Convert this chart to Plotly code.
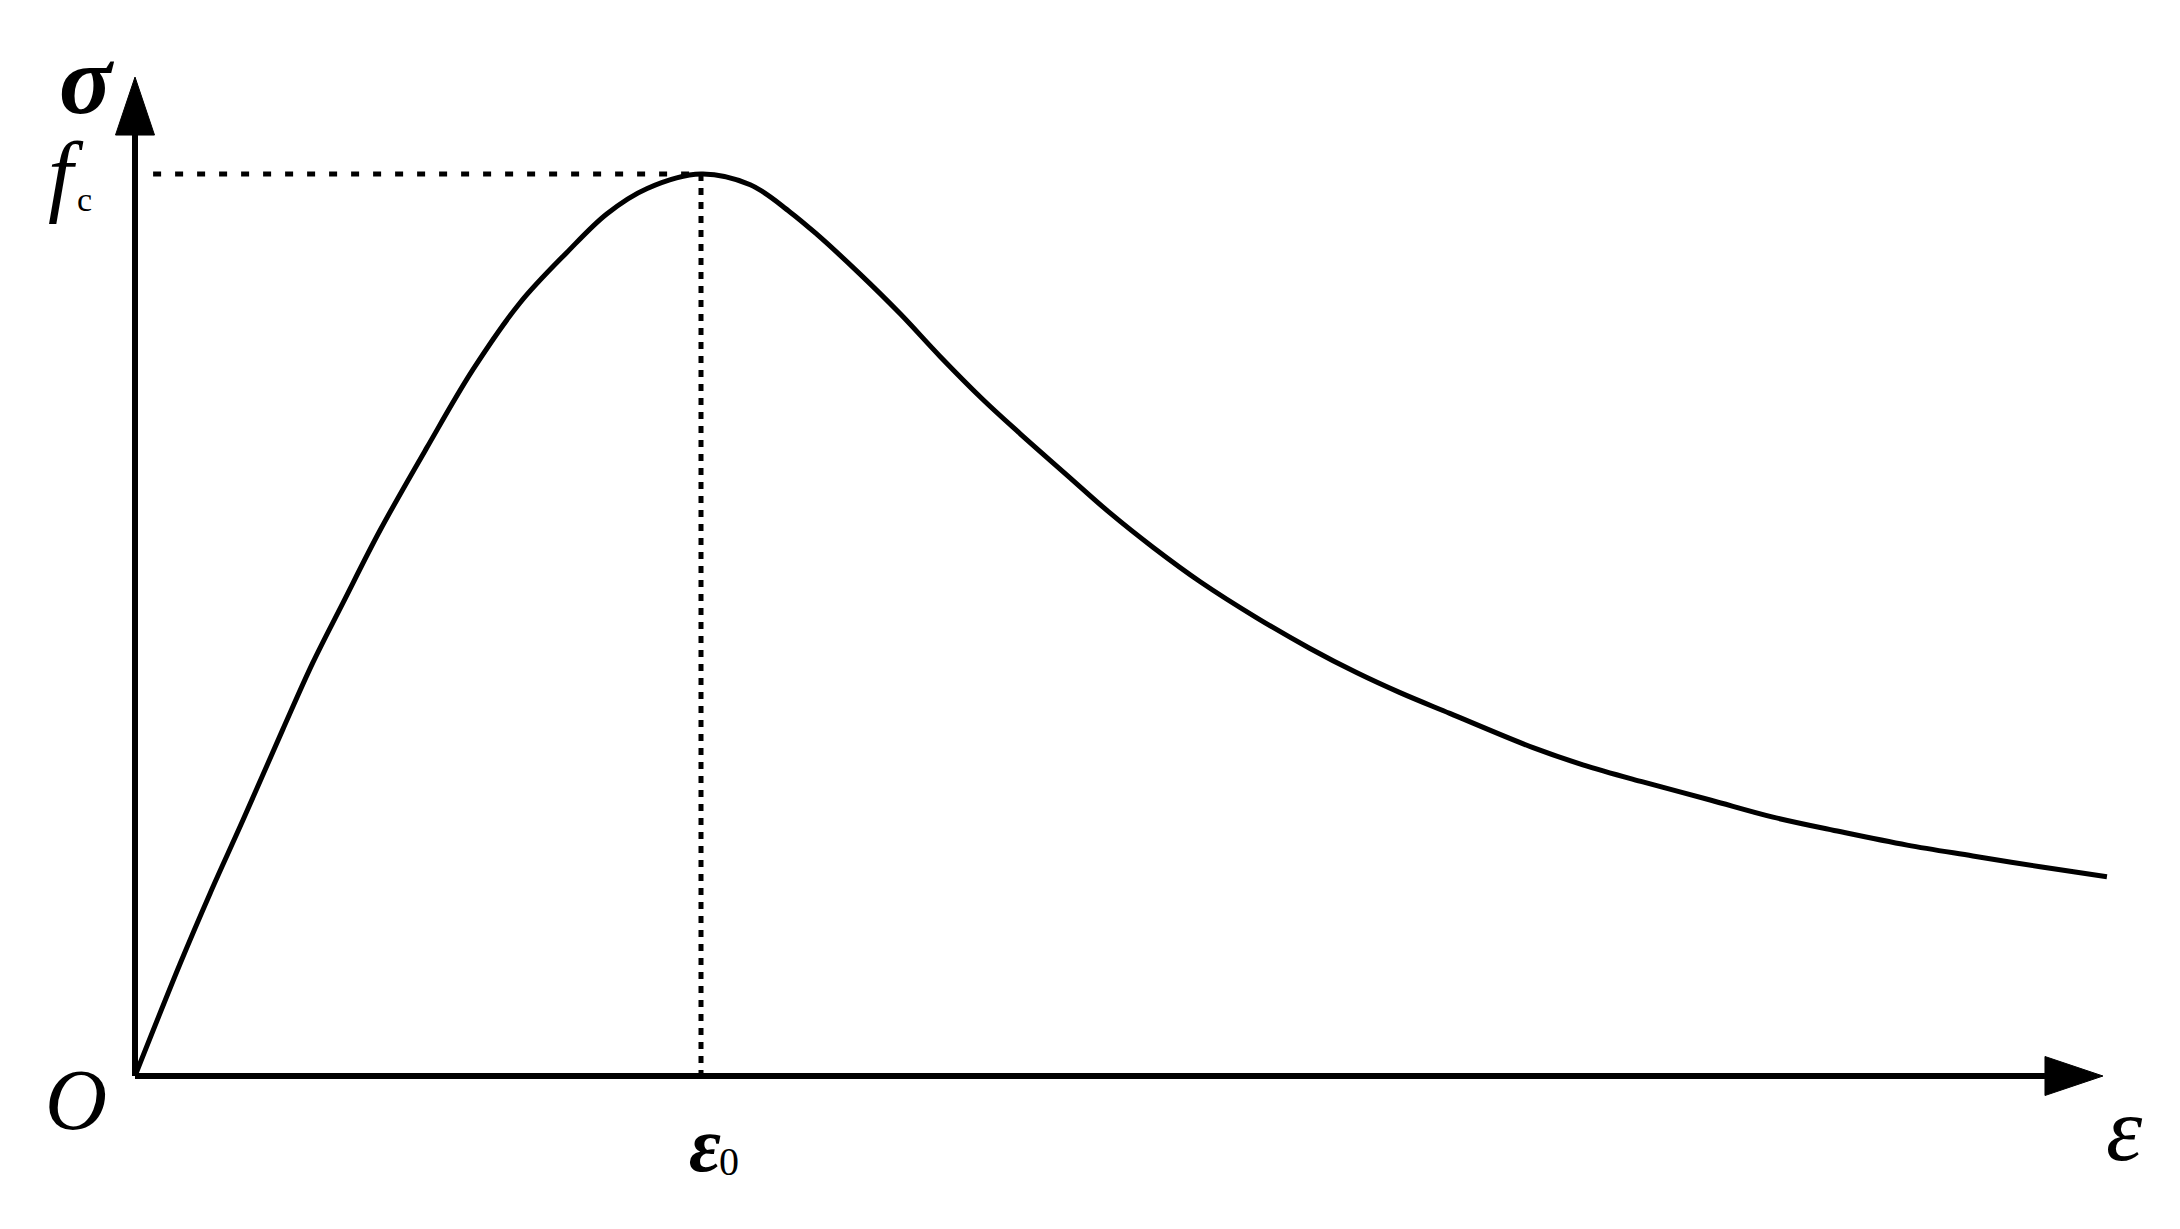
import plotly.graph_objects as go

# ---- data (normalised strain eps/eps0 and stress sigma/fc) ----
strain = [0.0, 0.080, 0.133, 0.191, 0.261, 0.314, 0.367, 0.433, 0.516, 0.597,
          0.680, 0.763, 0.834, 0.905, 1.0,
          1.087, 1.157, 1.205, 1.281, 1.352, 1.422, 1.498, 1.564, 1.647,
          1.723, 1.799, 1.882, 1.982, 2.076, 2.159, 2.235, 2.323, 2.470,
          2.558, 2.664, 2.783, 2.894, 3.012, 3.131, 3.247, 3.366, 3.484]
stress = [0.0, 0.125, 0.203, 0.284, 0.384, 0.458, 0.524, 0.605, 0.697, 0.783,
          0.857, 0.913, 0.956, 0.984, 1.0,
          0.988, 0.958, 0.933, 0.889, 0.845, 0.798, 0.750, 0.712, 0.666,
          0.624, 0.586, 0.548, 0.508, 0.474, 0.447, 0.425, 0.402, 0.364,
          0.345, 0.326, 0.306, 0.287, 0.271, 0.256, 0.244, 0.232, 0.221]

peak_strain = 1.0
peak_stress = 1.0
x_axis_end = 3.477
y_axis_end = 1.1075

OFF = 8  # page body margin
W, H = 2180 - OFF, 1229 - OFF
XR = [-(135 - OFF) / 566, (W - (135 - OFF)) / 566]
YR = [-(H - (1076 - OFF)) / 902, (1076 - OFF) / 902]

fig = go.Figure()

# dotted guide lines
fig.add_trace(go.Scatter(x=[0.032, peak_strain], y=[peak_stress, peak_stress], mode="lines",
                         line=dict(color="black", width=5, dash="8px,14px"), hoverinfo="skip"))
fig.add_trace(go.Scatter(x=[peak_strain, peak_strain], y=[peak_stress, 0], mode="lines",
                         line=dict(color="black", width=5, dash="7px,7px"), hoverinfo="skip"))

# main curve
fig.add_trace(go.Scatter(x=strain, y=stress, mode="lines",
                         line=dict(color="black", width=5, shape="spline", smoothing=1.0),
                         hoverinfo="skip"))

# axes drawn as lines + arrowheads
dx_px = (XR[1] - XR[0]) / W
dy_px = (YR[1] - YR[0]) / H
ybase = y_axis_end - 58 * dy_px
xbase = x_axis_end - 58 * dx_px
hw_x = 19.5 * dx_px
hw_y = 19.5 * dy_px

shapes = [
    dict(type="line", x0=0, y0=0, x1=0, y1=ybase, line=dict(color="black", width=6)),
    dict(type="line", x0=0, y0=0, x1=xbase, y1=0, line=dict(color="black", width=6)),
    dict(type="path", path=f"M {-hw_x} {ybase} L {hw_x} {ybase} L 0 {y_axis_end} Z",
         fillcolor="black", line=dict(color="black", width=1)),
    dict(type="path", path=f"M {xbase} {-hw_y} L {xbase} {hw_y} L {x_axis_end} 0 Z",
         fillcolor="black", line=dict(color="black", width=1)),
]


def P(px, py):
    return (px - OFF) / W, 1 - (py - OFF) / H


FONT = "Liberation Serif, Times New Roman, serif"
labels = [
    ("<b><i>σ</i></b>", 87, 80, 98),
    ("<i>f</i>", 66, 174, 90),
    ("c", 84, 200, 34),
    ("<i>O</i>", 76, 1100, 86),
    ("<b><i>ε</i></b>", 705, 1144, 78),
    ("0", 729, 1161, 40),
    ("<i>ε</i>", 2124, 1129, 92),
]
annotations = []
for text, px, py, size in labels:
    xp, yp = P(px, py)
    annotations.append(dict(text=text, x=xp, y=yp, xref="paper", yref="paper",
                            xanchor="center", yanchor="middle", showarrow=False,
                            font=dict(family=FONT, size=size, color="black")))

fig.update_layout(
    width=W, height=H,
    margin=dict(l=0, r=0, t=0, b=0),
    paper_bgcolor="white", plot_bgcolor="white",
    showlegend=False,
    xaxis=dict(range=XR, visible=False, fixedrange=True),
    yaxis=dict(range=YR, visible=False, fixedrange=True),
    shapes=shapes,
    annotations=annotations,
)

fig.write_html("out.html")
